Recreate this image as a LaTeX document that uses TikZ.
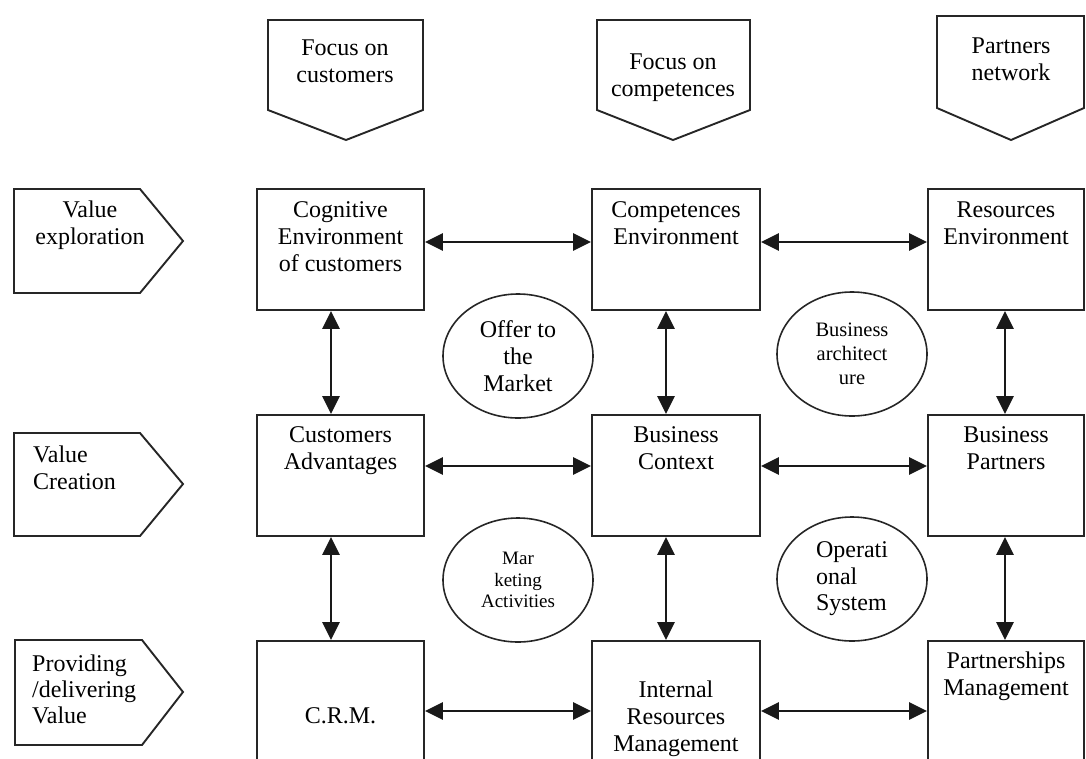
\documentclass[tikz,border=0pt]{standalone}
\usepackage{fontspec}
\setmainfont{Liberation Serif}
\usetikzlibrary{arrows.meta,shapes.geometric}
\newcommand\tst{\rule{0pt}{18pt}}
\begin{document}
\begin{tikzpicture}[x=1pt,y=-1pt,
  line/.style={draw=black!85, line width=1.9pt},
  box/.style={line, rectangle, inner sep=0pt},
  oval/.style={draw=black!85, line width=1.6pt, ellipse, minimum width=150pt, minimum height=124pt, inner sep=0pt, align=center},
  txt/.style={font=\fontsize{24}{27}\selectfont, align=center, inner sep=0pt, anchor=north},
  arr/.style={draw=black!90, line width=2.8pt, {Triangle[length=18pt,width=17pt]}-{Triangle[length=18pt,width=17pt]}},
]
\useasboundingbox (0,0) rectangle (1086,758);
\clip (0,0) rectangle (1086,758);

% top pentagons
\draw[line] (268,20) -- (423,20) -- (423,110) -- (346,140) -- (268,110) -- cycle;
\draw[line] (597,20) -- (750,20) -- (750,110) -- (673,140) -- (597,110) -- cycle;
\draw[line] (937,16) -- (1084,16) -- (1084,108) -- (1011,140) -- (937,108) -- cycle;
\node[txt] (h1) at (345,37) {\tst Focus on\\customers};
\node[txt] (h2) at (673,51) {\tst Focus on\\competences};
\node[txt] (h3) at (1011,35) {\tst Partners\\network};

% left pentagons
\draw[line] (14,189) -- (140,189) -- (183,241) -- (140,293) -- (14,293) -- cycle;
\draw[line] (14,433) -- (140,433) -- (183,484) -- (140,536) -- (14,536) -- cycle;
\draw[line] (15,640) -- (142,640) -- (183,692) -- (142,745) -- (15,745) -- cycle;
\node[txt] (l1) at (90,199) {\tst Value\\exploration};
\node[txt, anchor=north west, align=left] (l2) at (33,444) {\tst Value\\Creation};
\node[txt, anchor=north west, align=left, font=\fontsize{24}{26}\selectfont] (l3) at (32,653) {\tst Providing\\/delivering\\Value};

% boxes
\node[box, minimum width=167pt, minimum height=121pt] (ce) at (340.5,249.5) {};
\node[box, minimum width=168pt, minimum height=121pt] (co) at (676,249.5) {};
\node[box, minimum width=156pt, minimum height=121pt] (re) at (1006,249.5) {};
\node[box, minimum width=167pt, minimum height=121pt] (ca) at (340.5,475.5) {};
\node[box, minimum width=168pt, minimum height=121pt] (bc) at (676,475.5) {};
\node[box, minimum width=156pt, minimum height=121pt] (bp) at (1006,475.5) {};
\node[box, minimum width=167pt, minimum height=121pt] (crm) at (340.5,701.5) {};
\node[box, minimum width=168pt, minimum height=121pt] (irm) at (676,701.5) {};
\node[box, minimum width=156pt, minimum height=121pt] (pm) at (1006,701.5) {};

\node[txt] (tce) at ([yshift=-11pt]ce.north) {\tst Cognitive\\Environment\\of customers};
\node[txt] (tco) at ([yshift=-11pt]co.north) {\tst Competences\\Environment};
\node[txt] (tre) at ([yshift=-11pt]re.north) {\tst Resources\\Environment};
\node[txt] (tca) at ([yshift=-10pt]ca.north) {\tst Customers\\Advantages};
\node[txt] (tbc) at ([yshift=-10pt]bc.north) {\tst Business\\Context};
\node[txt] (tbp) at ([yshift=-10pt]bp.north) {\tst Business\\Partners};
\node[txt] (tcrm) at ([yshift=-65pt]crm.north) {\tst C.R.M.};
\node[txt] (tirm) at ([yshift=-39pt]irm.north) {\tst Internal\\Resources\\Management};
\node[txt] (tpm) at ([yshift=-10pt]pm.north) {\tst Partnerships\\Management};

% ellipses
\node[oval, font=\fontsize{24}{27}\selectfont] (offer) at (518,356) {Offer to\\the\\Market};
\node[oval, font=\fontsize{20.5}{24}\selectfont] (arch) at (852,354) {Business\\architect\\ure};
\node[oval, font=\fontsize{19}{21.5}\selectfont] (mkt) at (518,580) {Mar\\keting\\Activities};
\node[oval, font=\fontsize{24}{26.5}\selectfont, align=left] (ops) at (852,579) {Operati\\onal\\System};

% horizontal arrows
\draw[arr] ([yshift=7.5pt]ce.east) -- ([yshift=7.5pt]co.west);
\draw[arr] ([yshift=7.5pt]co.east) -- ([yshift=7.5pt]re.west);
\draw[arr] ([yshift=9.5pt]ca.east) -- ([yshift=9.5pt]bc.west);
\draw[arr] ([yshift=9.5pt]bc.east) -- ([yshift=9.5pt]bp.west);
\draw[arr] ([yshift=-9.5pt]crm.east) -- ([yshift=-9.5pt]irm.west);
\draw[arr] ([yshift=-9.5pt]irm.east) -- ([yshift=-9.5pt]pm.west);

% vertical arrows
\draw[arr] ([xshift=-9.5pt]ce.south) -- ([xshift=-9.5pt]ca.north);
\draw[arr] ([xshift=-9.5pt]ca.south) -- ([xshift=-9.5pt]crm.north);
\draw[arr] ([xshift=-10pt]co.south) -- ([xshift=-10pt]bc.north);
\draw[arr] ([xshift=-10pt]bc.south) -- ([xshift=-10pt]irm.north);
\draw[arr] ([xshift=-1pt]re.south) -- ([xshift=-1pt]bp.north);
\draw[arr] ([xshift=-1pt]bp.south) -- ([xshift=-1pt]pm.north);
\end{tikzpicture}
\end{document}
